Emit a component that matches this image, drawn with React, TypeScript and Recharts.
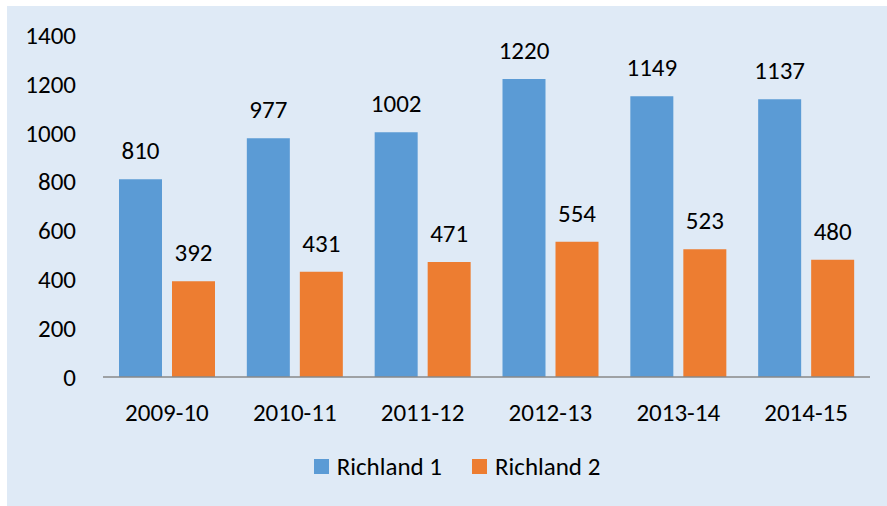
import { BarChart, Bar, XAxis, YAxis, Legend, LabelList } from 'recharts';

const seasons = ['2009-10', '2010-11', '2011-12', '2012-13', '2013-14', '2014-15'];
const richland1 = [810, 977, 1002, 1220, 1149, 1137];
const richland2 = [392, 431, 471, 554, 523, 480];
const yTicks = [0, 200, 400, 600, 800, 1000, 1200, 1400];

const chartData = seasons.map((season, i) => ({
  season,
  r1: richland1[i],
  r2: richland2[i],
}));

const FONT = 'Calibri, Carlito, Lato, sans-serif';
const FS = 25;
const BLUE = '#5b9bd5';
const ORANGE = '#ed7d31';

function LegendContent(props: any) {
  const items = props.payload || [];
  return (
    <div style={{ display: 'flex', justifyContent: 'center', alignItems: 'center', height: 40, paddingLeft: 37, fontFamily: FONT, fontSize: FS, color: '#000' }}>
      {items.map((item: any, i: number) => (
        <div key={i} style={{ display: 'flex', alignItems: 'center', marginRight: i < items.length - 1 ? 30 : 0 }}>
          <span style={{ display: 'inline-block', width: 15, height: 15, background: item.color, marginRight: 8 }} />
          <span>{item.value}</span>
        </div>
      ))}
    </div>
  );
}

export default function App() {
  return (
    <div style={{ position: 'absolute', left: 0, top: 0, width: 887, height: 506, background: '#fff' }}>
      <div style={{ position: 'absolute', left: 7, top: 6, width: 880, height: 500, background: '#dfeaf6' }}>
        <BarChart
          width={880}
          height={500}
          data={chartData}
          margin={{ top: 29, right: 17, left: 0, bottom: 20 }}
          barCategoryGap={16}
          barGap={10}
        >
          <XAxis
            dataKey="season"
            height={69}
            tickLine={false}
            tickSize={0}
            tickMargin={26}
            axisLine={{ stroke: '#898989', strokeWidth: 1.5 }}
            tick={{ fill: '#000', fontSize: FS, fontFamily: FONT }}
          />
          <YAxis
            width={96}
            domain={[0, 1400]}
            ticks={yTicks}
            axisLine={false}
            tickLine={false}
            tickSize={0}
            tickMargin={27}
            tick={{ fill: '#000', fontSize: FS, fontFamily: FONT }}
          />
          <Legend verticalAlign="bottom" height={40} content={<LegendContent />} />
          <Bar dataKey="r1" name="Richland 1" fill={BLUE} isAnimationActive={false}>
            <LabelList dataKey="r1" position="top" offset={20} fill="#000" fontSize={FS} fontFamily={FONT} />
          </Bar>
          <Bar dataKey="r2" name="Richland 2" fill={ORANGE} isAnimationActive={false}>
            <LabelList dataKey="r2" position="top" offset={20} fill="#000" fontSize={FS} fontFamily={FONT} />
          </Bar>
        </BarChart>
      </div>
    </div>
  );
}
